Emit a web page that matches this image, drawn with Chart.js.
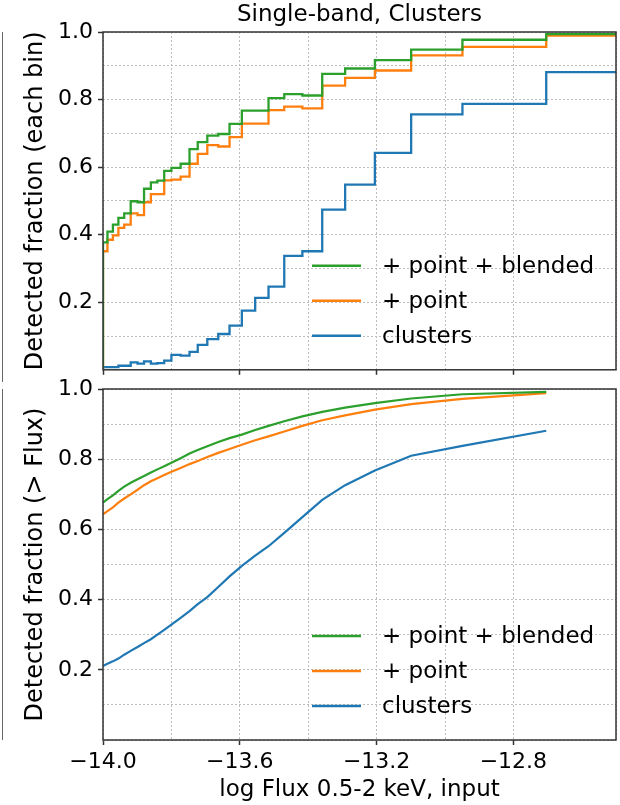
<!DOCTYPE html>
<html>
<head>
<meta charset="utf-8">
<script src="https://cdn.jsdelivr.net/npm/chart.js@4.4.0/dist/chart.umd.min.js"></script>
<style>
  html, body { margin: 0; padding: 0; background: #fff; }
  #wrap { position: relative; width: 620px; height: 805px; overflow: hidden; }
  canvas { position: absolute; left: 0; }
  #topChart { top: 0; }
  #botChart { top: 360px; }
  .edge { position: absolute; left: 0; width: 2px; border-right: 1.5px solid #666; }
</style>
</head>
<body>
<div id="wrap">
  <div class="edge" style="top:32px;height:350px"></div>
  <div class="edge" style="top:389px;height:351px"></div>
  <canvas id="topChart" width="620" height="388"></canvas>
  <canvas id="botChart" width="620" height="445"></canvas>
</div>
<script>
// bin edges (log flux)
const binEdges = [-14.0, -13.987, -13.971, -13.955, -13.938, -13.919, -13.899, -13.880, -13.860, -13.841,
  -13.821, -13.800, -13.773, -13.747, -13.723, -13.695, -13.663, -13.630, -13.594, -13.555,
  -13.516, -13.470, -13.417, -13.359, -13.292, -13.205, -13.099, -12.949, -12.704, -12.5]

// detected fraction in each bin (top panel)
const binBlended = [0.377, 0.409, 0.430, 0.450, 0.463, 0.499, 0.496, 0.536, 0.555, 0.560,
  0.589, 0.598, 0.610, 0.653, 0.674, 0.693, 0.698, 0.728, 0.767, 0.767,
  0.804, 0.816, 0.812, 0.876, 0.892, 0.917, 0.948, 0.977, 0.994]
const binPoint = [0.351, 0.385, 0.398, 0.420, 0.430, 0.463, 0.458, 0.496, 0.520, 0.520,
  0.561, 0.563, 0.572, 0.610, 0.639, 0.665, 0.661, 0.689, 0.729, 0.729,
  0.769, 0.779, 0.774, 0.841, 0.864, 0.886, 0.931, 0.956, 0.989]
const binClusters = [0.008, 0.008, 0.008, 0.012, 0.012, 0.022, 0.018, 0.025, 0.018, 0.020,
  0.027, 0.044, 0.042, 0.053, 0.074, 0.091, 0.106, 0.131, 0.175, 0.213,
  0.246, 0.337, 0.351, 0.474, 0.548, 0.642, 0.756, 0.787, 0.881]

// detected fraction above flux (bottom panel), at the left bin edges
const cumBlended = [0.676, 0.686, 0.697, 0.710, 0.722, 0.733, 0.743, 0.752, 0.762, 0.771,
  0.780, 0.790, 0.803, 0.816, 0.826, 0.837, 0.849, 0.860, 0.870, 0.883,
  0.895, 0.908, 0.922, 0.935, 0.947, 0.960, 0.973, 0.985, 0.992]
const cumPoint = [0.643, 0.652, 0.663, 0.676, 0.688, 0.700, 0.713, 0.726, 0.737, 0.746,
  0.755, 0.764, 0.775, 0.786, 0.795, 0.806, 0.818, 0.829, 0.841, 0.854,
  0.865, 0.879, 0.895, 0.911, 0.925, 0.941, 0.957, 0.972, 0.988]
const cumClusters = [0.211, 0.217, 0.224, 0.232, 0.243, 0.254, 0.265, 0.276, 0.287, 0.300,
  0.314, 0.329, 0.348, 0.367, 0.387, 0.407, 0.436, 0.466, 0.496, 0.525,
  0.552, 0.590, 0.635, 0.684, 0.726, 0.768, 0.810, 0.838, 0.881]

const seriesNames = ['+ point + blended', '+ point', 'clusters']
const seriesColors = ['#2ca02c', '#ff7f0e', '#1f77b4']
const xTickLabels = [-14.0, -13.6, -13.2, -12.8]
const yTickLabels = [0.2, 0.4, 0.6, 0.8, 1.0]

Chart.defaults.font.family = "'DejaVu Sans', sans-serif"
Chart.defaults.color = '#000'

const isOne = (v, list) => list.some(t => Math.abs(t - v) < 1e-6)

// histogram as a step line, starting from zero at the first edge
function stepPts(vals) {
  const pts = [{ x: binEdges[0], y: 0 }]
  vals.forEach((v, i) => pts.push({ x: binEdges[i], y: v }))
  pts.push({ x: binEdges[vals.length], y: vals[vals.length - 1] })
  return pts
}
function linePts(vals) {
  return vals.map((v, i) => ({ x: binEdges[i], y: v }))
}

// frame round the plot area (matplotlib spines)
const spines = {
  id: 'spines',
  afterDatasetsDraw(chart) {
    const { ctx, chartArea: a } = chart
    ctx.save()
    ctx.strokeStyle = '#333'
    ctx.lineWidth = 1.5
    ctx.strokeRect(a.left, a.top, a.right - a.left, a.bottom - a.top)
    ctx.restore()
  }
}

// title centred over the plot area, not the whole canvas
const axesTitle = {
  id: 'axesTitle',
  afterDraw(chart, args, opts) {
    if (!opts.text) return
    const { ctx, chartArea: a } = chart
    ctx.save()
    ctx.font = "23px 'DejaVu Sans'"
    ctx.fillStyle = '#000'
    ctx.textAlign = 'center'
    ctx.textBaseline = 'middle'
    ctx.fillText(opts.text, (a.left + a.right) / 2, a.top - 17)
    ctx.restore()
  }
}

// legend sitting in the lower right of the plot
const innerLegend = {
  id: 'innerLegend',
  afterDraw(chart) {
    const { ctx, chartArea: a } = chart
    ctx.save()
    ctx.font = "23px 'DejaVu Sans'"
    ctx.textBaseline = 'middle'
    chart.data.datasets.forEach((ds, i) => {
      const y = a.bottom - 104 + i * 35
      ctx.strokeStyle = ds.borderColor
      ctx.lineWidth = 2.5
      ctx.beginPath()
      ctx.moveTo(312, y)
      ctx.lineTo(361, y)
      ctx.stroke()
      ctx.fillStyle = '#000'
      ctx.fillText(ds.label, 382, y + 1)
    })
    ctx.restore()
  }
}

function makeOptions(isTop) {
  return {
    responsive: false,
    animation: false,
    layout: { padding: { top: isTop ? 32 : 29, right: 3, left: 0, bottom: 0 } },
    plugins: {
      legend: { display: false },
      tooltip: { enabled: false },
      title: { display: false },
      axesTitle: { text: isTop ? 'Single-band, Clusters' : '' }
    },
    scales: {
      x: {
        type: 'linear',
        min: -14,
        max: -12.5,
        afterFit: s => { s.height = isTop ? 6 : 65 },
        ticks: {
          stepSize: 0.2,
          autoSkip: false,
          maxRotation: 0,
          padding: 4,
          font: { size: 22 },
          callback: v => (!isTop && isOne(v, xTickLabels)) ? v.toFixed(1).replace('-', '\u2212') : ''
        },
        grid: {
          color: '#bdbdbd',
          lineWidth: 1,
          tickLength: 5,
          tickWidth: 1.5,
          tickColor: c => isOne(c.tick.value, xTickLabels) ? '#333' : 'rgba(0,0,0,0)'
        },
        border: { display: false, dash: [2, 2] },
        title: {
          display: !isTop,
          text: 'log Flux 0.5-2 keV, input',
          font: { size: 23 },
          padding: { top: 0, bottom: 1 }
        }
      },
      y: {
        min: 0,
        max: 1,
        afterFit: s => { s.width = 103 },
        ticks: {
          stepSize: 0.1,
          autoSkip: false,
          padding: 5,
          font: { size: 22 },
          callback: v => isOne(v, yTickLabels) ? v.toFixed(1) : ''
        },
        grid: {
          color: '#bdbdbd',
          lineWidth: 1,
          tickLength: 5,
          tickWidth: 1.5,
          tickColor: c => isOne(c.tick.value, yTickLabels) ? '#333' : 'rgba(0,0,0,0)'
        },
        border: { display: false, dash: [2, 2] },
        title: {
          display: true,
          text: isTop ? 'Detected fraction (each bin)' : 'Detected fraction (> Flux)',
          font: { size: 24 },
          padding: { top: 21, bottom: 0 }
        }
      }
    }
  }
}

const topVals = [binBlended, binPoint, binClusters]
const botVals = [cumBlended, cumPoint, cumClusters]

new Chart(document.getElementById('topChart'), {
  type: 'line',
  data: {
    datasets: topVals.map((vals, i) => ({
      label: seriesNames[i],
      data: stepPts(vals),
      borderColor: seriesColors[i],
      borderWidth: 2.3,
      pointRadius: 0,
      fill: false,
      stepped: 'before'
    }))
  },
  options: makeOptions(true),
  plugins: [spines, axesTitle, innerLegend]
})

new Chart(document.getElementById('botChart'), {
  type: 'line',
  data: {
    datasets: botVals.map((vals, i) => ({
      label: seriesNames[i],
      data: linePts(vals),
      borderColor: seriesColors[i],
      borderWidth: 2.2,
      pointRadius: 0,
      fill: false,
      tension: 0
    }))
  },
  options: makeOptions(false),
  plugins: [spines, axesTitle, innerLegend]
})
</script>
</body>
</html>
